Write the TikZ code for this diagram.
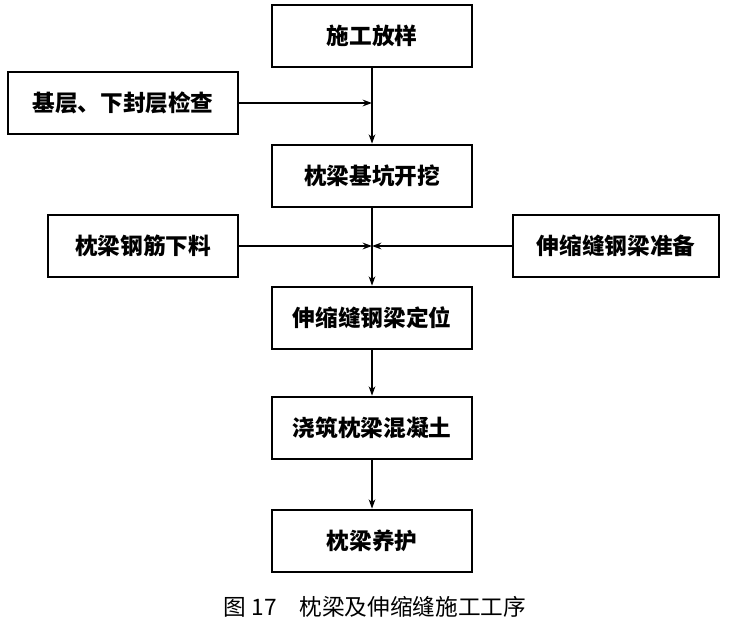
\documentclass[tikz,border=0pt]{standalone}
\usepackage{fontspec}
\newfontfamily\cjk{Noto Sans CJK SC}
\usetikzlibrary{positioning, arrows.meta, calc}

\begin{document}
\begin{tikzpicture}[
    x=0.75pt, y=-0.75pt,
    box/.style={draw, line width=1.5pt, minimum width=150pt, minimum height=47pt, font=\cjk\bfseries\fontsize{17}{19}\selectfont},
    flow/.style={line width=1.2pt, -{Stealth[length=7pt,width=5pt]}}
]
    \useasboundingbox (0,0) rectangle (729,634);
    % main column
    \node[box] (fy) at (372,36) {施工放样};
    \node[box] (kw) at (372,176) {枕梁基坑开挖};
    \node[box] (dw) at (372,318) {伸缩缝钢梁定位};
    \node[box] (jz) at (372,428) {浇筑枕梁混凝土};
    \node[box] (yh) at (372,541) {枕梁养护};
    % side inputs
    \node[box, minimum width=172pt] (jc) at (123,103) {基层、下封层检查};
    \node[box, minimum width=142pt] (gj) at (143,246) {枕梁钢筋下料};
    \node[box, minimum width=155pt] (zb) at (616,246) {伸缩缝钢梁准备};
    \coordinate (m1) at (fy.south |- jc.east);
    \coordinate (m2) at (kw.south |- gj.east);
    % connectors
    \draw[flow] (fy.south) -- (kw.north);
    \draw[flow] (jc.east) -- (m1);
    \draw[line width=1.2pt] (kw.south) -- (m2);
    \draw[flow] (m2) -- (dw.north);
    \draw[flow] (gj.east) -- (m2);
    \draw[flow] (zb.west) -- (m2);
    \draw[flow] (dw.south) -- (jz.north);
    \draw[flow] (jz.south) -- (yh.north);
    \node[font=\cjk\fontsize{17}{19}\selectfont] (cap) at (375,607) {图 17\quad 枕梁及伸缩缝施工工序};
\end{tikzpicture}
\end{document}
